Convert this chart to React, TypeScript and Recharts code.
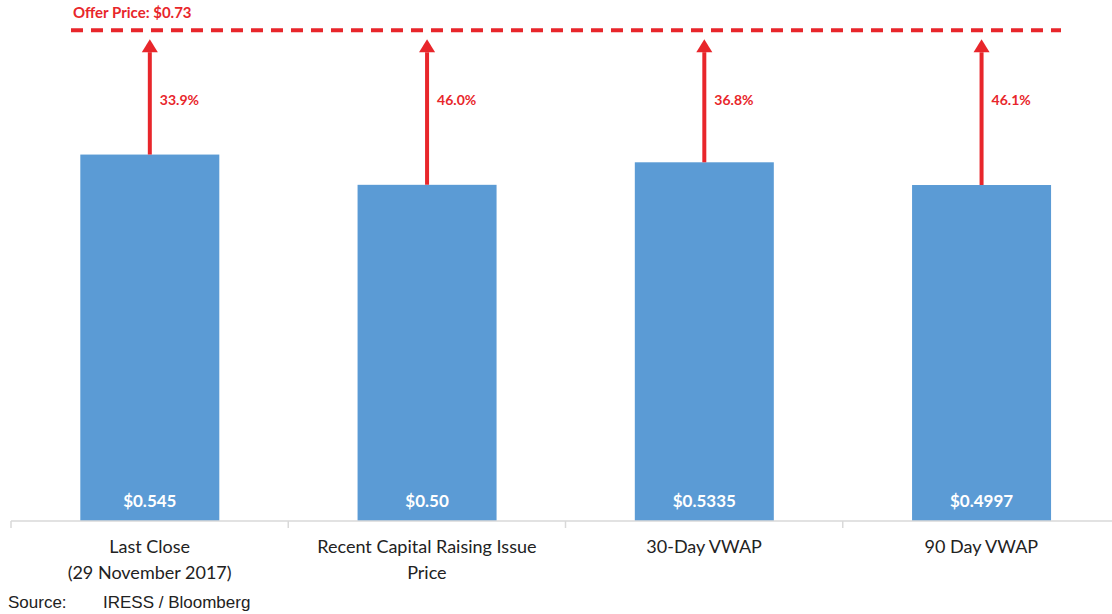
import React from 'react';
import { BarChart, Bar, XAxis, YAxis, ReferenceLine } from 'recharts';

// Chart data
const categories = ['Last Close\n(29 November 2017)', 'Recent Capital Raising Issue\nPrice', '30-Day VWAP', '90 Day VWAP'];
const prices = [0.545, 0.5, 0.5335, 0.4997];
const priceLabels = ['$0.545', '$0.50', '$0.5335', '$0.4997'];
const premiums = ['33.9%', '46.0%', '36.8%', '46.1%'];
const offerPrice = 0.73;
const offerLabel = 'Offer Price: $0.73';

const RED = '#e8262b';
const BLUE = '#5b9bd5';
const FONT = 'Lato, "Open Sans", sans-serif';

const CHART_W = 1120;
const CHART_H = 614;
const MARGIN = { top: 10, right: 0, bottom: 0, left: 11 };
const PLOT_W = CHART_W - MARGIN.left - MARGIN.right;

const data = categories.map((name, i) => ({
    name,
    price: prices[i],
    priceLabel: priceLabels[i],
    premium: premiums[i],
}));

// bar + arrow up to the offer line
const BarWithArrow = (props: any) => {
    const { x, y, width, height, payload } = props;
    const base = y + height;
    const pxPerUnit = height / payload.price;
    const offerY = base - offerPrice * pxPerUnit;
    const cx = x + width / 2;
    const headTop = offerY + 9;
    const headBase = headTop + 13;
    return (
        <g>
            <rect x={x} y={y} width={width} height={height} fill={BLUE} />
            <line x1={cx} y1={y} x2={cx} y2={headBase} stroke={RED} strokeWidth={4} />
            <polygon points={`${cx - 8},${headBase} ${cx + 8},${headBase} ${cx},${headTop}`} fill={RED} />
            <text x={cx + 10} y={offerY + 75} fill={RED} fontSize={14} fontWeight={700} fontFamily={FONT}>
                {payload.premium}
            </text>
            <text x={cx} y={base - 14} fill="#fff" fontSize={17} fontWeight={700} fontFamily={FONT} textAnchor="middle">
                {payload.priceLabel}
            </text>
        </g>
    );
};

const CategoryTick = (props: any) => {
    const { x, payload } = props;
    const lines = String(payload.value).split('\n');
    const axisY = CHART_H - 93;
    const bx = x - PLOT_W / categories.length / 2;
    return (
        <g>
            <line x1={bx} y1={axisY} x2={bx} y2={axisY + 7} stroke="#d9d9d9" strokeWidth={1.5} />
            {lines.map((l, i) => (
                <text key={i} x={x} y={axisY + 32 + i * 26} textAnchor="middle" fill="#222" fontSize={18} fontFamily={FONT}>
                    {l}
                </text>
            ))}
        </g>
    );
};

const OfferLine = (props: any) => {
    const { x1, y1, x2 } = props;
    const sx = x1 + 60;
    const ex = x2 - 59;
    return (
        <g>
            <line x1={sx} y1={y1} x2={ex} y2={y1} stroke={RED} strokeWidth={4} strokeDasharray="12 8" />
            <text x={sx + 2} y={y1 - 12} fill={RED} fontSize={15} fontWeight={700} fontFamily={FONT}>
                {offerLabel}
            </text>
        </g>
    );
};

export default function App() {
    return (
        <div style={{ position: 'fixed', left: 0, top: 0, width: 1112, height: 614, overflow: 'hidden', background: '#fff' }}>
            <BarChart width={CHART_W} height={CHART_H} data={data} margin={MARGIN} barCategoryGap="25%">
                <XAxis
                    dataKey="name"
                    height={93}
                    axisLine={{ stroke: '#d9d9d9', strokeWidth: 1.5 }}
                    tickLine={false}
                    tick={<CategoryTick />}
                    interval={0}
                />
                <YAxis hide domain={[0, 0.76]} />
                <ReferenceLine y={offerPrice} shape={<OfferLine />} ifOverflow="visible" />
                <Bar dataKey="price" shape={<BarWithArrow />} isAnimationActive={false} />
            </BarChart>
            <div style={{ position: 'absolute', left: 8, top: 593, fontFamily: '"Liberation Sans", Arial, sans-serif', fontSize: 17, color: '#222' }}>
                Source:
            </div>
            <div style={{ position: 'absolute', left: 103, top: 593, fontFamily: '"Liberation Sans", Arial, sans-serif', fontSize: 17, color: '#222' }}>
                IRESS / Bloomberg
            </div>
        </div>
    );
}
